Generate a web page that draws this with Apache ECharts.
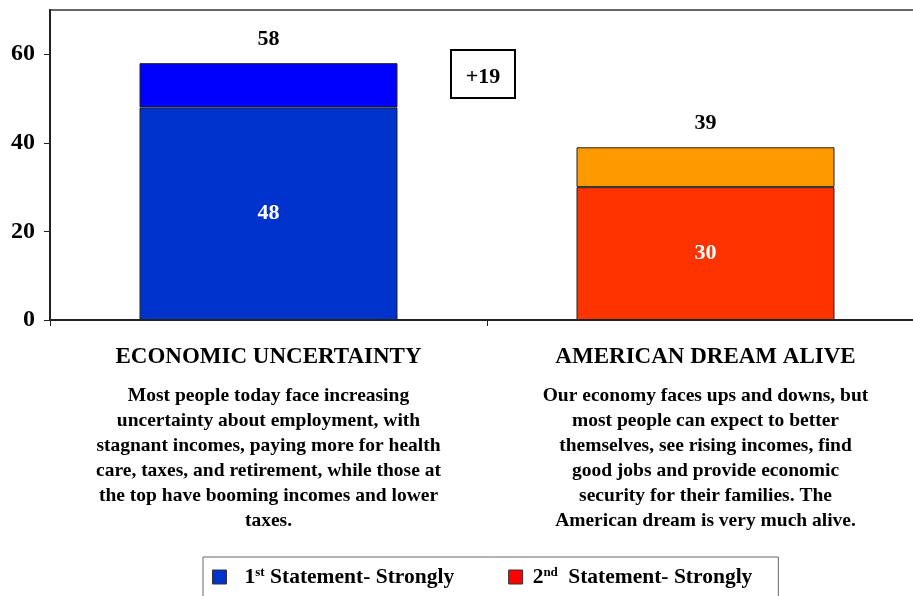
<!DOCTYPE html>
<html>
<head>
<meta charset="utf-8">
<script src="https://cdn.jsdelivr.net/npm/echarts@6/dist/echarts.min.js"></script>
<style>
  html, body { margin: 0; padding: 0; background: #fff; }
  #chart { width: 913px; height: 596px; }
</style>
</head>
<body>
<div id="chart"></div>
<script>
// Statement headings and their wording
const categories = ['ECONOMIC UNCERTAINTY', 'AMERICAN DREAM ALIVE'];
const descriptions = [
  ['Most people today face increasing',
   'uncertainty about employment, with',
   'stagnant incomes, paying more for health',
   'care, taxes, and retirement, while those at',
   'the top have booming incomes and lower',
   'taxes.'],
  ['Our economy faces ups and downs, but',
   'most people can expect to better',
   'themselves, see rising incomes, find',
   'good jobs and provide economic',
   'security for their families. The',
   'American dream is very much alive.']
];

// Percent agreeing strongly, and total agreeing
const strongly = [48, 30];
const totals = [58, 39];

// Axis ticks
const yTicks = [0, 20, 40, 60];

const legendNames = ['1st Statement- Strongly', '2nd Statement- Strongly'];

const FONT = '"Liberation Serif", "Times New Roman", serif';

// Remaining share above the "strongly" segment
const rest = totals.map((t, i) => t - strongly[i]);

const onlyAt = (arr, i) => arr.map((v, j) => (j === i ? v : '-'));

const innerLabel = {
  show: true,
  position: 'inside',
  color: '#fff',
  fontFamily: FONT,
  fontWeight: 'bold',
  fontSize: 22
};

const topLabel = (i) => ({
  show: true,
  position: 'top',
  distance: 13,
  color: '#000',
  fontFamily: FONT,
  fontWeight: 'bold',
  fontSize: 22,
  formatter: () => String(totals[i])
});

const barStyle = (color) => ({ color: color, borderColor: '#222', borderWidth: 1 });

const chart = echarts.init(document.getElementById('chart'));

chart.setOption({
  animation: false,
  backgroundColor: '#fff',
  grid: {
    left: 50, width: 874, top: 10, bottom: 276,
    outerBoundsMode: 'none',
    containLabel: false,
    show: true, borderColor: '#666', borderWidth: 2, backgroundColor: 'transparent'
  },
  legend: {
    left: 203, top: 557,
    padding: [9, 26, 30, 9],
    borderColor: '#666', borderWidth: 1,
    itemWidth: 14, itemHeight: 14, itemGap: 54,
    icon: 'rect',
    data: [
      { name: legendNames[0], itemStyle: { color: '#0033CC', borderColor: '#333', borderWidth: 1 } },
      { name: legendNames[1], itemStyle: { color: '#FF0000', borderColor: '#333', borderWidth: 1 } }
    ],
    formatter: (name) => {
      const first = name.startsWith('1');
      const sup = first ? 'st' : 'nd';
      const lead = first ? '{g|}' : '{h|}';
      const after = first ? '' : '{h|}';
      return lead + '{n|' + name.charAt(0) + '}{s|' + sup + '}' + after + '{n|' + name.slice(3) + '}';
    },
    textStyle: {
      fontFamily: FONT,
      fontWeight: 'bold',
      fontSize: 21.5,
      color: '#000',
      rich: {
        g: { width: 13 },
        h: { width: 5 },
        n: { fontFamily: FONT, fontWeight: 'bold', fontSize: 21.5, color: '#000' },
        s: { fontFamily: FONT, fontWeight: 'bold', fontSize: 13, color: '#000', padding: [0, 0, 9, 0] }
      }
    }
  },
  xAxis: {
    type: 'category',
    data: categories,
    axisLine: { lineStyle: { color: '#222', width: 2 } },
    axisTick: { show: true, length: 6, lineStyle: { color: '#222', width: 1 } },
    axisLabel: {
      interval: 0,
      margin: 11,
      verticalAlign: 'top',
      formatter: (value) => {
        const i = categories.indexOf(value);
        return '{t|' + value + '}\n' + descriptions[i].map((l) => '{d|' + l + '}').join('\n');
      },
      rich: {
        t: { fontFamily: FONT, fontWeight: 'bold', fontSize: 23, color: '#000', lineHeight: 52, align: 'center' },
        d: { fontFamily: FONT, fontWeight: 'bold', fontSize: 19.5, color: '#000', lineHeight: 25, align: 'center' }
      }
    }
  },
  yAxis: {
    type: 'value',
    min: 0, max: 70, interval: 20,
    splitLine: { show: false },
    axisLine: { show: true, lineStyle: { color: '#222', width: 2 } },
    axisTick: { show: true, length: 6, lineStyle: { color: '#222' } },
    axisLabel: {
      showMaxLabel: false,
      margin: 15,
      fontFamily: FONT, fontWeight: 'bold', fontSize: 24, color: '#000',
      formatter: (v) => (yTicks.includes(v) ? String(v) : '')
    }
  },
  graphic: [
    {
      type: 'rect',
      shape: { x: 451, y: 50, width: 64, height: 48 },
      style: { fill: '#fff', stroke: '#000', lineWidth: 2 }
    },
    {
      type: 'text',
      x: 483, y: 77,
      style: {
        text: '+' + (totals[0] - totals[1]),
        fontFamily: FONT, fontWeight: 'bold', fontSize: 22, fill: '#000',
        align: 'center', verticalAlign: 'middle'
      }
    }
  ],
  series: [
    {
      name: legendNames[0], type: 'bar', stack: 'a', barWidth: 258,
      data: onlyAt(strongly, 0), itemStyle: barStyle('#0033CC'), label: innerLabel
    },
    {
      name: legendNames[1], type: 'bar', stack: 'a', barWidth: 258,
      data: onlyAt(strongly, 1), itemStyle: barStyle('#FF3300'), label: innerLabel
    },
    {
      name: 'rest1', type: 'bar', stack: 'a', barWidth: 258,
      data: onlyAt(rest, 0), itemStyle: barStyle('#0000FF'), label: topLabel(0)
    },
    {
      name: 'rest2', type: 'bar', stack: 'a', barWidth: 258,
      data: onlyAt(rest, 1), itemStyle: barStyle('#FF9900'), label: topLabel(1)
    }
  ]
});
</script>
</body>
</html>
